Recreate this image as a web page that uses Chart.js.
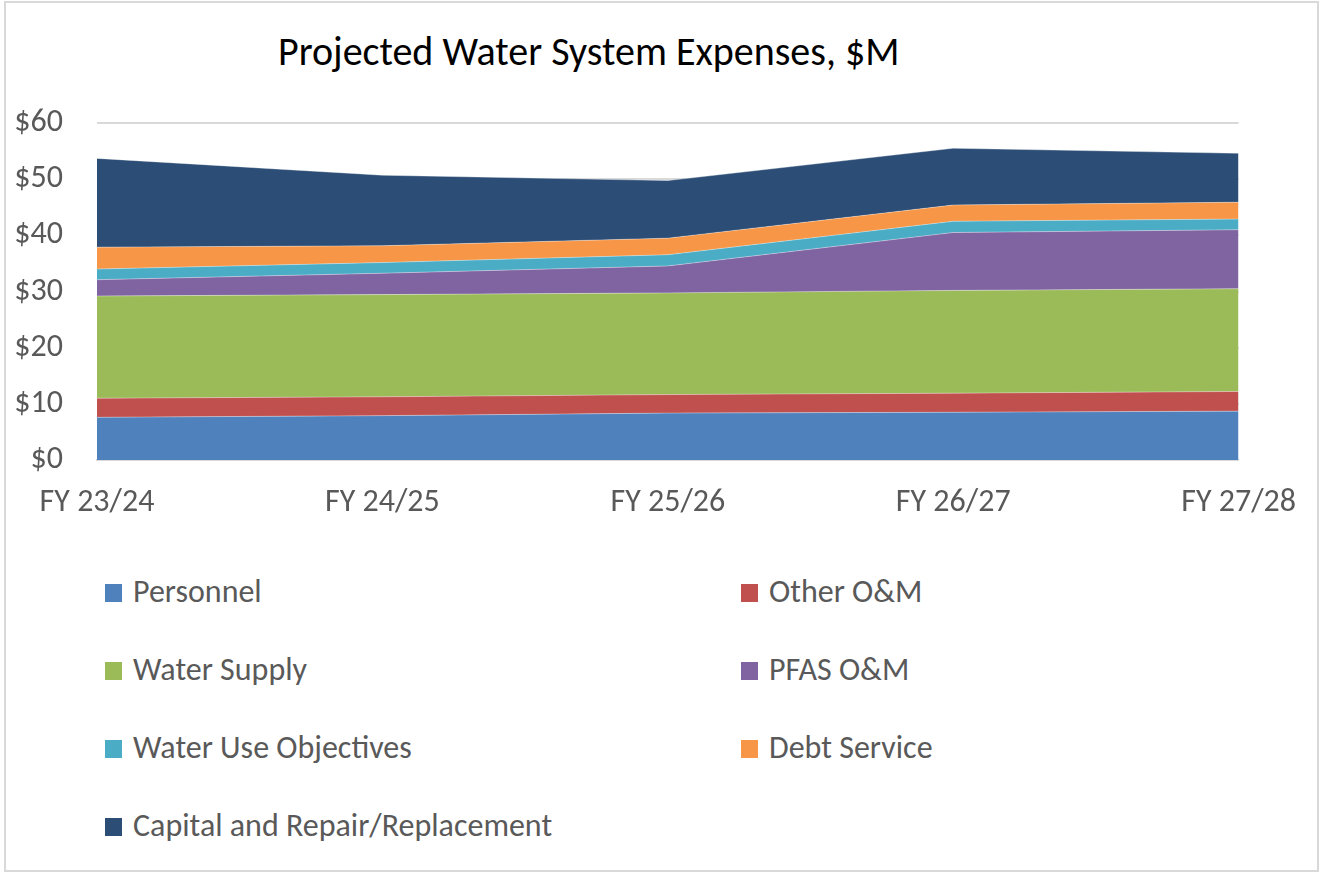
<!DOCTYPE html>
<html lang="en">
<head>
<meta charset="UTF-8">
<title>Projected Water System Expenses</title>
<script src="https://cdn.jsdelivr.net/npm/chart.js"></script>
<style>
  body {
    margin: 0;
    background: #fff;
    font-family: Carlito, Lato, sans-serif;
  }
  .frame {
    position: absolute;
    left: 4px;
    top: 1px;
    width: 1315px;
    height: 871px;
    border: 2px solid #d9d9d9;
    box-sizing: border-box;
  }
  .title {
    position: absolute;
    left: 278px;
    top: 27px;
    font-size: 40px;
    color: #000;
    white-space: nowrap;
  }
  .chart-box {
    position: absolute;
    left: 0;
    top: 0;
    width: 1320px;
    height: 530px;
  }
  .legend {
    position: absolute;
    left: 0;
    top: 0;
  }
  .legend-item {
    position: absolute;
    font-size: 32px;
    color: #595959;
    white-space: nowrap;
    line-height: 1;
  }
  .legend-item span.box {
    position: absolute;
    width: 17px;
    height: 18px;
    top: 8px;
    left: 0;
  }
  .legend-item span.text {
    position: absolute;
    left: 28px;
    top: 0;
  }
</style>
</head>
<body>
  <div class="frame"></div>
  <div class="title">Projected Water System Expenses, $M</div>
  <div class="chart-box"><canvas id="expenseChart"></canvas></div>
  <div class="legend" id="legend"></div>

  <script>
    // fiscal years on the x axis
    const years = ['FY 23/24', 'FY 24/25', 'FY 25/26', 'FY 26/27', 'FY 27/28'];

    // values in $M, stacked bottom to top
    const personnel = [7.6, 7.9, 8.35, 8.5, 8.7];
    const otherOM = [3.4, 3.35, 3.3, 3.4, 3.5];
    const waterSupply = [18.2, 18.2, 18.1, 18.3, 18.3];
    const pfasOM = [2.9, 3.8, 4.8, 10.3, 10.5];
    const waterUseObjectives = [1.9, 1.9, 2.0, 2.0, 1.9];
    const debtService = [3.9, 3.0, 2.95, 2.9, 3.0];
    const capitalRepair = [15.8, 12.55, 10.25, 10.1, 8.7];

    const yTicks = [0, 10, 20, 30, 40, 50, 60];

    const series = [
      { label: 'Personnel', data: personnel, color: '#4f81bd' },
      { label: 'Other O&M', data: otherOM, color: '#c0504d' },
      { label: 'Water Supply', data: waterSupply, color: '#9bbb59' },
      { label: 'PFAS O&M', data: pfasOM, color: '#8064a2' },
      { label: 'Water Use Objectives', data: waterUseObjectives, color: '#4bacc6' },
      { label: 'Debt Service', data: debtService, color: '#f79646' },
      { label: 'Capital and Repair/Replacement', data: capitalRepair, color: '#2c4d75' }
    ];

    const fontFamily = 'Carlito, Lato, sans-serif';

    const datasets = series.map((s, i) => ({
      label: s.label,
      data: s.data,
      backgroundColor: s.color,
      borderColor: 'rgba(255,255,255,0.35)',
      borderWidth: 1,
      pointRadius: 0,
      tension: 0,
      fill: i === 0 ? 'origin' : '-1'
    }));

    const ctx = document.getElementById('expenseChart').getContext('2d');
    const chart = new Chart(ctx, {
      type: 'line',
      data: { labels: years, datasets: datasets },
      options: {
        responsive: true,
        maintainAspectRatio: false,
        animation: false,
        layout: { padding: { top: 123, right: 80, left: 0, bottom: 0 } },
        plugins: {
          legend: { display: false },
          tooltip: { enabled: false },
          filler: { propagate: false }
        },
        scales: {
          x: {
            offset: false,
            grid: { display: false, drawTicks: false },
            border: { display: true, color: '#d9d9d9', width: 2 },
            ticks: {
              color: '#595959',
              font: { family: fontFamily, size: 32 },
              padding: 24,
              maxRotation: 0
            },
            afterFit: (scale) => { scale.height = 70; }
          },
          y: {
            stacked: true,
            min: 0,
            max: 60,
            afterBuildTicks: (scale) => { scale.ticks = yTicks.map(v => ({ value: v })); },
            grid: { color: '#d9d9d9', lineWidth: 2, drawTicks: false },
            border: { display: false },
            ticks: {
              color: '#595959',
              font: { family: fontFamily, size: 32 },
              padding: 34,
              callback: (v) => '$' + v
            },
            afterFit: (scale) => { scale.width = 97; }
          }
        }
      }
    });

    // two-column legend like the original
    const legendEl = document.getElementById('legend');
    const colX = [105, 741];
    const rowY = [576, 654, 732, 810];
    series.forEach((s, i) => {
      const item = document.createElement('div');
      item.className = 'legend-item';
      item.style.left = colX[i % 2] + 'px';
      item.style.top = rowY[Math.floor(i / 2)] + 'px';
      item.innerHTML = '<span class="box" style="background:' + s.color + '"></span><span class="text"></span>';
      item.querySelector('.text').textContent = s.label;
      legendEl.appendChild(item);
    });
  </script>
</body>
</html>
